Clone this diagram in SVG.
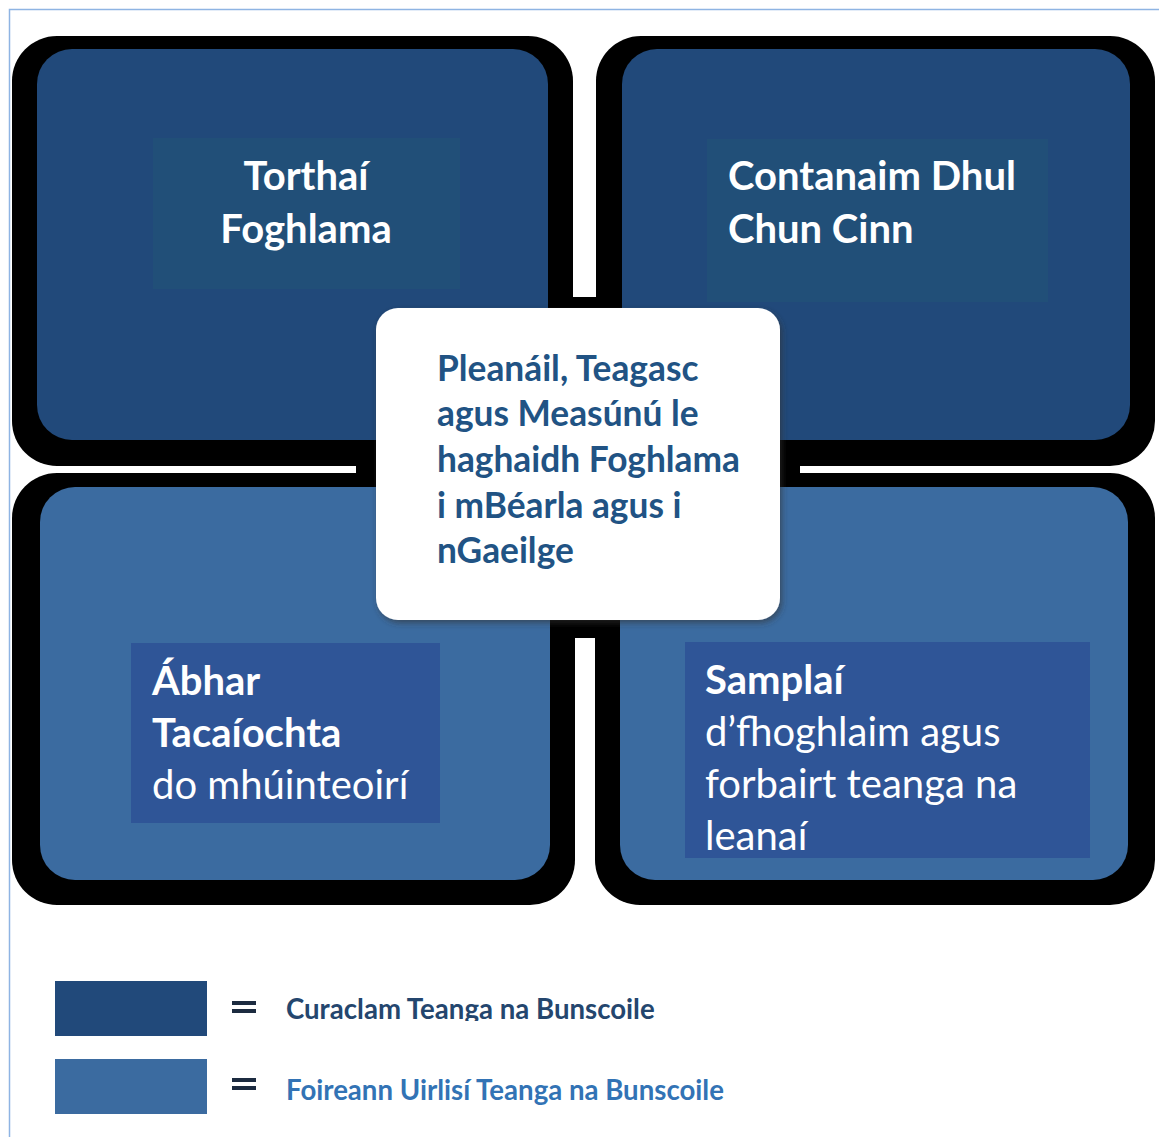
<svg xmlns="http://www.w3.org/2000/svg" width="1159" height="1137" viewBox="0 0 1159 1137">
<defs>
<style>
.glow{fill:#000}
.dk{fill:#21497a}
.lt{fill:#3b6ba0}
.in1{fill:#214f78}
.in2{fill:#2f5597}
.wt{fill:#fff;font-family:Lato,"Open Sans",sans-serif;font-size:40px}
.b{font-weight:bold}
.ct{fill:#215384;font-family:Lato,"Open Sans",sans-serif;font-size:35.3px;font-weight:bold}
.lg{font-family:Lato,"Open Sans",sans-serif;font-size:27.6px;font-weight:bold}
</style>
<filter id="sh" x="-10%" y="-10%" width="120%" height="120%">
<feDropShadow dx="2" dy="3" stdDeviation="3" flood-color="#333" flood-opacity="0.6"/>
</filter>
<clipPath id="cBR"><rect x="685" y="642" width="405" height="216"/></clipPath>
<clipPath id="cLG"><rect x="280" y="990" width="420" height="31"/></clipPath>
</defs>
<rect width="1159" height="1137" fill="#fff"/>
<g id="frame" fill="none" stroke="#8eb4e3" stroke-width="1.5">
<path d="M9.5,1137 V9.5 H1159"/>
</g>
<g id="glows">
<rect class="glow" x="12" y="36" width="561" height="430" rx="45"/>
<rect class="glow" x="596" y="36" width="559" height="430" rx="45"/>
<rect class="glow" x="12" y="473" width="563" height="432" rx="45"/>
<rect class="glow" x="595" y="473" width="560" height="432" rx="45"/>
<rect class="glow" x="356" y="297" width="444" height="341" rx="30"/>
</g>
<g id="connectors"></g>
<g id="torthai">
<rect class="dk" x="37" y="49" width="511" height="391" rx="35"/>
<rect class="in1" x="153" y="138" width="307" height="151"/>
<text class="wt b" text-anchor="middle" x="306" y="190">Torthaí</text>
<text class="wt b" text-anchor="middle" x="306" y="243">Foghlama</text>
</g>
<g id="contanaim">
<rect class="dk" x="622" y="49" width="508" height="391" rx="35"/>
<rect class="in1" x="707" y="139" width="341" height="163"/>
<text class="wt b" x="728" y="190">Contanaim Dhul</text>
<text class="wt b" x="728" y="243">Chun Cinn</text>
</g>
<g id="abhar">
<rect class="lt" x="40" y="487" width="510" height="393" rx="35"/>
<rect class="in2" x="131" y="643" width="309" height="180"/>
<text class="wt b" x="152" y="695">Ábhar</text>
<text class="wt b" x="152" y="747">Tacaíochta</text>
<text class="wt" x="152" y="799">do mhúinteoirí</text>
</g>
<g id="samplai">
<rect class="lt" x="620" y="487" width="508" height="393" rx="35"/>
<rect class="in2" x="685" y="642" width="405" height="216"/>
<g clip-path="url(#cBR)">
<text class="wt b" x="705" y="694">Samplaí</text>
<text class="wt" x="705" y="746">d’fhoghlaim agus</text>
<text class="wt" x="705" y="798">forbairt teanga na</text>
<text class="wt" x="705" y="850">leanaí</text>
</g>
</g>
<g id="center">
<rect x="376" y="308" width="404" height="312" rx="22" fill="#fff" filter="url(#sh)"/>
<text class="ct" x="437" y="381">Pleanáil, Teagasc</text>
<text class="ct" x="437" y="426">agus Measúnú le</text>
<text class="ct" x="437" y="472">haghaidh Foghlama</text>
<text class="ct" x="437" y="518">i mBéarla agus i</text>
<text class="ct" x="437" y="563">nGaeilge</text>
</g>
<g id="legend1">
<rect x="55" y="981" width="152" height="55" fill="#21497a"/>
<rect x="232" y="1001" width="24" height="4" fill="#1c2b40"/>
<rect x="232" y="1009" width="24" height="4" fill="#1c2b40"/>
<text class="lg" x="286" y="1019" fill="#24466e" clip-path="url(#cLG)">Curaclam Teanga na Bunscoile</text>
</g>
<g id="legend2">
<rect x="55" y="1059" width="152" height="55" fill="#3b6ba0"/>
<rect x="232" y="1078" width="24" height="4" fill="#1c2b40"/>
<rect x="232" y="1086" width="24" height="4" fill="#1c2b40"/>
<text class="lg" x="286" y="1100" fill="#3273b5">Foireann Uirlisí Teanga na Bunscoile</text>
</g>
</svg>
